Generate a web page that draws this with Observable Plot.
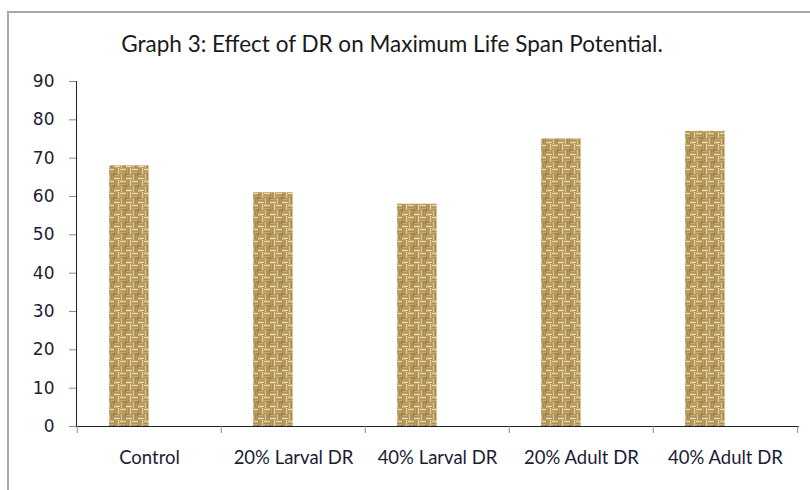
<!DOCTYPE html>
<html>
<head>
<meta charset="utf-8">
<script src="https://cdn.jsdelivr.net/npm/d3@7"></script>
<script src="https://cdn.jsdelivr.net/npm/@observablehq/plot@0.6"></script>
<style>
  html, body { margin: 0; padding: 0; background: #fff; }
  #wrap { position: relative; width: 810px; height: 490px; overflow: hidden; background: #fff; }
  #frame { position: absolute; left: 7px; top: 11px; width: 820px; height: 500px;
           border-left: 2px solid #a8a8a8; border-top: 2px solid #a8a8a8; box-sizing: border-box; }
  #title { position: absolute; left: 0; width: 784px; top: 30px; text-align: center;
           font-family: Lato, sans-serif; font-size: 22.5px; color: #1a1a1a; white-space: nowrap; }
  #chart { position: absolute; left: 0; top: 0; }
  #chart svg { overflow: visible; }
  g[aria-label="y-axis"] text, g[aria-label="y-axis tick label"] text {
    font-family: "DejaVu Sans", Verdana, sans-serif; font-size: 17px; fill: #1c1c34; }
  g[aria-label="x-axis"] text, g[aria-label="x-axis tick label"] text {
    font-family: Lato, sans-serif; font-size: 18.5px; fill: #1c1c34; }
  g[aria-label="y-axis"] path, g[aria-label="x-axis"] path,
  g[aria-label="y-axis tick"] path, g[aria-label="x-axis tick"] path { stroke: #8c8c8c; }
</style>
</head>
<body>
<div id="wrap">
  <div id="frame"></div>
  <div id="chart"></div>
  <div id="title">Graph 3: Effect of DR on Maximum Life Span Potential.</div>
</div>
<script>
const categories = ["Control", "20% Larval DR", "40% Larval DR", "20% Adult DR", "40% Adult DR"];
const values = [68, 61, 58, 75, 77];
const yTicks = [0, 10, 20, 30, 40, 50, 60, 70, 80, 90];

const data = categories.map((c, i) => ({category: c, value: values[i]}));

const W = 810, H = 490, mL = 76, mR = 12, mT = 81, mB = 64;
const band = (W - mL - mR) / categories.length;

const chart = Plot.plot({
  width: W, height: H,
  marginLeft: mL, marginRight: mR, marginTop: mT, marginBottom: mB,
  style: {background: "transparent", color: "#1c1c34"},
  x: {domain: categories, padding: 0, label: null, tickSize: 0, tickPadding: 24, line: true},
  y: {domain: [0, 90], ticks: yTicks, label: null, tickSize: 7, tickPadding: 15, line: true},
  marks: [
    Plot.barY(data, {x: "category", y: "value", fill: "url(#burlap)", insetLeft: 32, insetRight: band - 72}),
    Plot.ruleX(categories, {x: d => d, dx: -band / 2, y1: 0, y2: 0, insetBottom: -7, stroke: "#8c8c8c"}),
    Plot.ruleX([categories[categories.length - 1]], {x: d => d, dx: band / 2, y1: 0, y2: 0, insetBottom: -7, stroke: "#8c8c8c"})
  ]
});

// burlap-like basket weave pattern
const ns = "http://www.w3.org/2000/svg";
const defs = document.createElementNS(ns, "defs");
const pat = document.createElementNS(ns, "pattern");
pat.setAttribute("id", "burlap");
pat.setAttribute("patternUnits", "userSpaceOnUse");
pat.setAttribute("width", "12");
pat.setAttribute("height", "12");
const rects = [
  [0, 0, 12, 12, "#94773f"],
  // top-left: horizontal strands
  [0, 0.5, 6, 2, "#e9d39c"], [0, 3.5, 6, 2, "#c9ab6e"],
  // top-right: vertical strands
  [6.5, 0, 2, 6, "#bf9f63"], [9.5, 0, 2, 6, "#e4cc94"],
  // bottom-left: vertical strands
  [0.5, 6, 2, 6, "#dcc287"], [3.5, 6, 2, 6, "#b99a5e"],
  // bottom-right: horizontal strands
  [6, 6.5, 6, 2, "#c6a86c"], [6, 9.5, 6, 2, "#ecd8a4"],
  // darker knots
  [5.5, 5.5, 1.2, 1.2, "#6e522a"], [11.4, 11.4, 0.6, 0.6, "#6e522a"]
];
for (const [x, y, w, h, f] of rects) {
  const r = document.createElementNS(ns, "rect");
  r.setAttribute("x", x); r.setAttribute("y", y);
  r.setAttribute("width", w); r.setAttribute("height", h);
  r.setAttribute("fill", f);
  pat.appendChild(r);
}
defs.appendChild(pat);
chart.insertBefore(defs, chart.firstChild);

document.getElementById("chart").appendChild(chart);
</script>
</body>
</html>
